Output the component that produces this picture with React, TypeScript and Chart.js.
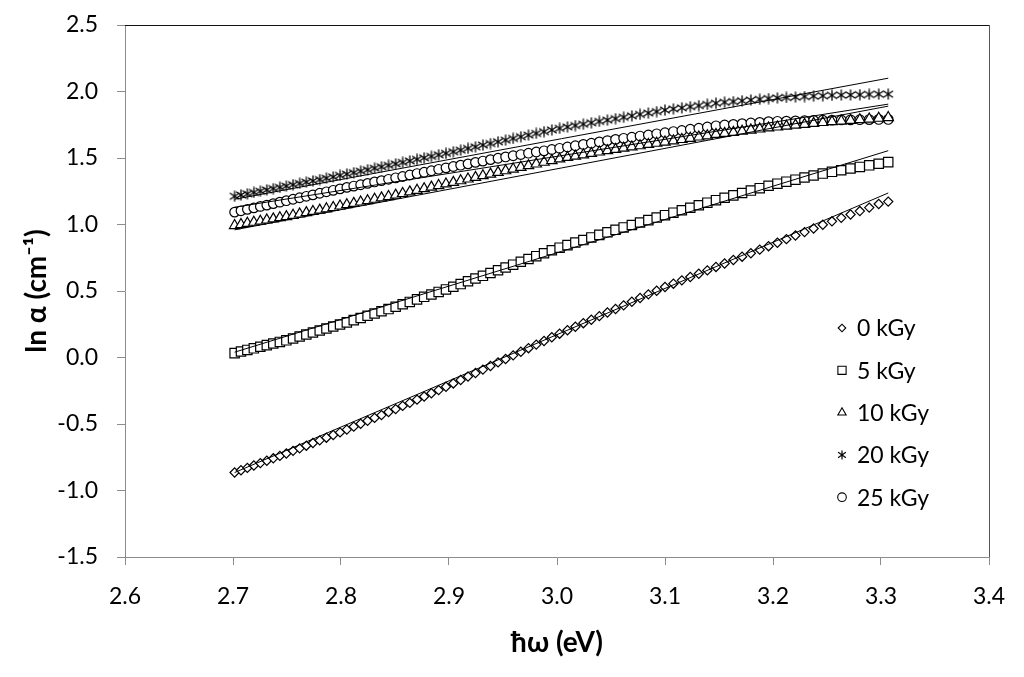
import { useEffect, useRef } from "react";
import { Chart, registerables } from "chart.js";
import { drawPoint } from "chart.js/helpers";

Chart.register(...registerables);

// photon energy (eV) of every measured point
const energies = [
  2.7015, 2.7074, 2.7133, 2.7193, 2.7253, 2.7313, 2.7373, 2.7434, 2.7494, 2.7556,
  2.7617, 2.7679, 2.774, 2.7803, 2.7865, 2.7928, 2.7991, 2.8054, 2.8118, 2.8182,
  2.8246, 2.8311, 2.8375, 2.844, 2.8506, 2.8571, 2.8637, 2.8704, 2.877, 2.8837,
  2.8904, 2.8972, 2.904, 2.9108, 2.9176, 2.9245, 2.9314, 2.9384, 2.9454, 2.9524,
  2.9594, 2.9665, 2.9736, 2.9808, 2.988, 2.9952, 3.0024, 3.0097, 3.017, 3.0244,
  3.0318, 3.0392, 3.0467, 3.0542, 3.0617, 3.0693, 3.0769, 3.0846, 3.0923, 3.1,
  3.1078, 3.1156, 3.1234, 3.1313, 3.1392, 3.1472, 3.1552, 3.1633, 3.1714, 3.1795,
  3.1877, 3.1959, 3.2041, 3.2124, 3.2208, 3.2292, 3.2376, 3.2461, 3.2546, 3.2632,
  3.2718, 3.2804, 3.2891, 3.2979, 3.3067,
];

const lnAlpha0kGy = [
  -0.865, -0.848, -0.83, -0.812, -0.794, -0.776, -0.758, -0.74, -0.722, -0.702,
  -0.683, -0.663, -0.643, -0.623, -0.603, -0.583, -0.563, -0.542, -0.52, -0.498,
  -0.476, -0.454, -0.433, -0.41, -0.388, -0.364, -0.341, -0.317, -0.293, -0.269,
  -0.245, -0.22, -0.195, -0.169, -0.143, -0.117, -0.091, -0.064, -0.037, -0.011,
  0.016, 0.043, 0.07, 0.097, 0.124, 0.152, 0.179, 0.205, 0.231, 0.258,
  0.284, 0.311, 0.338, 0.365, 0.392, 0.419, 0.447, 0.475, 0.502, 0.53,
  0.555, 0.58, 0.605, 0.63, 0.655, 0.681, 0.707, 0.733, 0.758, 0.784,
  0.811, 0.837, 0.863, 0.89, 0.917, 0.943, 0.97, 0.998, 1.024, 1.05,
  1.075, 1.101, 1.127, 1.154, 1.172,
];

const lnAlpha5kGy = [
  0.033, 0.045, 0.057, 0.069, 0.081, 0.093, 0.105, 0.117, 0.129, 0.143,
  0.158, 0.173, 0.188, 0.203, 0.218, 0.233, 0.248, 0.264, 0.281, 0.297,
  0.314, 0.331, 0.348, 0.364, 0.382, 0.4, 0.418, 0.437, 0.456, 0.474,
  0.493, 0.512, 0.532, 0.552, 0.573, 0.594, 0.614, 0.635, 0.656, 0.677,
  0.698, 0.72, 0.741, 0.762, 0.784, 0.806, 0.826, 0.845, 0.864, 0.883,
  0.903, 0.922, 0.941, 0.96, 0.978, 0.996, 1.015, 1.033, 1.052, 1.07,
  1.089, 1.107, 1.126, 1.145, 1.164, 1.183, 1.201, 1.219, 1.237, 1.255,
  1.273, 1.291, 1.307, 1.322, 1.337, 1.353, 1.368, 1.383, 1.396, 1.408,
  1.421, 1.433, 1.445, 1.457, 1.469,
];

const lnAlpha10kGy = [
  0.992, 1.0, 1.009, 1.017, 1.025, 1.034, 1.042, 1.051, 1.059, 1.069,
  1.079, 1.089, 1.098, 1.108, 1.118, 1.128, 1.139, 1.149, 1.159, 1.169,
  1.179, 1.19, 1.2, 1.21, 1.221, 1.233, 1.245, 1.257, 1.269, 1.281,
  1.293, 1.305, 1.317, 1.329, 1.342, 1.354, 1.367, 1.379, 1.392, 1.404,
  1.417, 1.43, 1.442, 1.455, 1.468, 1.481, 1.493, 1.504, 1.514, 1.524,
  1.535, 1.545, 1.555, 1.565, 1.574, 1.583, 1.592, 1.602, 1.611, 1.62,
  1.629, 1.639, 1.648, 1.658, 1.667, 1.677, 1.685, 1.693, 1.701, 1.71,
  1.718, 1.726, 1.733, 1.74, 1.747, 1.753, 1.76, 1.767, 1.773, 1.778,
  1.783, 1.788, 1.793, 1.799, 1.804,
];

const lnAlpha20kGy = [
  1.212, 1.222, 1.231, 1.241, 1.25, 1.26, 1.27, 1.279, 1.289, 1.299,
  1.309, 1.319, 1.328, 1.338, 1.348, 1.358, 1.369, 1.379, 1.39, 1.401,
  1.412, 1.423, 1.434, 1.445, 1.456, 1.467, 1.478, 1.49, 1.501, 1.512,
  1.524, 1.535, 1.547, 1.559, 1.572, 1.584, 1.597, 1.609, 1.622, 1.634,
  1.647, 1.66, 1.672, 1.685, 1.698, 1.711, 1.723, 1.734, 1.744, 1.754,
  1.765, 1.775, 1.785, 1.796, 1.806, 1.817, 1.828, 1.838, 1.849, 1.86,
  1.869, 1.877, 1.886, 1.894, 1.903, 1.912, 1.919, 1.924, 1.93, 1.936,
  1.941, 1.947, 1.952, 1.955, 1.958, 1.962, 1.965, 1.968, 1.971, 1.973,
  1.974, 1.976, 1.978, 1.98, 1.98,
];

const lnAlpha25kGy = [
  1.093, 1.103, 1.114, 1.125, 1.136, 1.146, 1.157, 1.168, 1.179, 1.19,
  1.201, 1.212, 1.223, 1.235, 1.246, 1.257, 1.268, 1.279, 1.289, 1.299,
  1.309, 1.32, 1.33, 1.34, 1.351, 1.361, 1.372, 1.383, 1.393, 1.404,
  1.415, 1.426, 1.436, 1.446, 1.456, 1.467, 1.477, 1.488, 1.498, 1.508,
  1.517, 1.526, 1.536, 1.545, 1.554, 1.564, 1.573, 1.583, 1.592, 1.602,
  1.611, 1.621, 1.631, 1.64, 1.648, 1.656, 1.665, 1.673, 1.682, 1.69,
  1.699, 1.707, 1.716, 1.724, 1.733, 1.742, 1.748, 1.753, 1.758, 1.763,
  1.768, 1.773, 1.776, 1.777, 1.779, 1.781, 1.783, 1.784, 1.785, 1.786,
  1.787, 1.788, 1.789, 1.79, 1.79,
];

const doseLabels = ["0 kGy", "5 kGy", "10 kGy", "20 kGy", "25 kGy"];

// linear fits: value at first and last energy, one per dose
const fitEnergies = [2.7015, 3.3067];
const fitStart = [-0.865, 0.04, 0.96, 1.19, 1.13];
const fitEnd = [1.237, 1.555, 1.89, 2.1, 1.905];

const xTicks = [2.6, 2.7, 2.8, 2.9, 3.0, 3.1, 3.2, 3.3, 3.4];
const yTicks = [-1.5, -1.0, -0.5, 0.0, 0.5, 1.0, 1.5, 2.0, 2.5];

const FONT = "Lato";

function asterisk(size: number, lw: number) {
  const c = document.createElement("canvas");
  c.width = size;
  c.height = size;
  const g = c.getContext("2d")!;
  const m = size / 2;
  const r = size / 2 - 0.5;
  g.strokeStyle = "#000";
  g.lineWidth = lw;
  g.beginPath();
  g.moveTo(m - r * 0.87, m - r * 0.6);
  g.lineTo(m + r * 0.87, m + r * 0.6);
  g.moveTo(m + r * 0.87, m - r * 0.6);
  g.lineTo(m - r * 0.87, m + r * 0.6);
  g.moveTo(m, m - r);
  g.lineTo(m, m + r);
  g.stroke();
  return c;
}

const App = () => {
  const canvasRef = useRef<HTMLCanvasElement | null>(null);

  useEffect(() => {
    document.body.style.margin = "0";
    if (!canvasRef.current) return;

    const series = [lnAlpha0kGy, lnAlpha5kGy, lnAlpha10kGy, lnAlpha20kGy, lnAlpha25kGy];
    const styles: any[] = ["rectRot", "rect", "triangle", asterisk(12, 1.3), "circle"];
    const radii = [4.6, 6.6, 6.0, 6, 4.8];
    const legendStyles: any[] = ["rectRot", "rect", "triangle", asterisk(10, 1.2), "circle"];
    const legendRadii = [3.8, 5.8, 4.8, 5, 4.3];

    const fits = fitStart.map((y0, k) => ({
      type: "line" as const,
      label: "fit " + doseLabels[k],
      data: [
        { x: fitEnergies[0], y: y0 },
        { x: fitEnergies[1], y: fitEnd[k] },
      ],
      borderColor: "#000",
      borderWidth: 1,
      pointRadius: 0,
      showLine: true,
      fill: false,
    }));

    const marks = series.map((vals, k) => ({
      type: "scatter" as const,
      label: doseLabels[k],
      data: energies.map((x, i) => ({ x, y: vals[i] })),
      pointStyle: styles[k],
      pointRadius: radii[k],
      pointBackgroundColor: "#fff",
      pointBorderColor: "#000",
      pointBorderWidth: 1.2,
      showLine: false,
    }));

    const framePlugin = {
      id: "frame",
      afterDatasetsDraw(chart: any) {
        const { ctx, chartArea } = chart;
        const { left, top, right, bottom } = chartArea;
        ctx.save();
        ctx.lineWidth = 1;
        ctx.strokeStyle = "#111";
        ctx.beginPath();
        ctx.moveTo(left, Math.round(top) + 0.5);
        ctx.lineTo(right, Math.round(top) + 0.5);
        ctx.stroke();
        ctx.strokeStyle = "#555";
        ctx.beginPath();
        ctx.moveTo(Math.round(right) + 0.5, top);
        ctx.lineTo(Math.round(right) + 0.5, bottom);
        ctx.stroke();
        ctx.restore();
      },
    };

    const legendPlugin = {
      id: "doseLegend",
      afterDraw(chart: any) {
        const { ctx } = chart;
        ctx.save();
        ctx.font = `23px ${FONT}`;
        ctx.textBaseline = "middle";
        doseLabels.forEach((label, k) => {
          const y = 328 + k * 42.3;
          ctx.fillStyle = "#fff";
          ctx.strokeStyle = "#000";
          ctx.lineWidth = 1.1;
          drawPoint(ctx, { pointStyle: legendStyles[k], radius: legendRadii[k], rotation: 0, borderWidth: 1.1 }, 842, y);
          ctx.fillStyle = "#000";
          ctx.fillText(label, 857, y + 1);
        });
        ctx.restore();
      },
    };

    const chart = new Chart(canvasRef.current, {
      type: "scatter",
      data: { datasets: [...fits, ...marks] as any },
      options: {
        animation: false,
        responsive: false,
        layout: { padding: { left: 0, top: 25, right: 35, bottom: 0 } },
        plugins: {
          legend: { display: false },
          tooltip: { enabled: false },
        },
        scales: {
          x: {
            type: "linear",
            min: 2.6,
            max: 3.4,
            afterFit: (s: any) => {
              s.height = 120;
            },
            afterBuildTicks: (s: any) => {
              s.ticks = xTicks.map((v) => ({ value: v }));
            },
            ticks: {
              font: { family: FONT, size: 23 },
              color: "#000",
              padding: 18,
              callback: (v: any) => Number(v).toFixed(1),
            },
            grid: { drawOnChartArea: false, tickLength: 8, color: "#8c8c8c" },
            border: { color: "#8c8c8c" },
            title: {
              display: true,
              text: "ħω (eV)",
              font: { family: FONT, size: 28, weight: "bold" },
              color: "#000",
              padding: { top: 0, bottom: 17 },
            },
          },
          y: {
            type: "linear",
            min: -1.5,
            max: 2.5,
            afterFit: (s: any) => {
              s.width = 125;
              s.paddingTop = 0;
              s.paddingBottom = 0;
            },
            afterBuildTicks: (s: any) => {
              s.ticks = yTicks.map((v) => ({ value: v }));
            },
            ticks: {
              font: { family: FONT, size: 23 },
              color: "#000",
              padding: 19,
              callback: (v: any) => Number(v).toFixed(1),
            },
            grid: { drawOnChartArea: false, tickLength: 8, color: "#8c8c8c" },
            border: { color: "#8c8c8c" },
            title: {
              display: true,
              text: "ln α (cm⁻¹)",
              font: { family: FONT, size: 28, weight: "bold" },
              color: "#000",
              padding: { top: 20, bottom: 0 },
            },
          },
        },
      },
      plugins: [framePlugin, legendPlugin],
    });

    return () => {
      chart.destroy();
    };
  }, []);

  return (
    <div style={{ width: 1024, height: 677 }}>
      <canvas ref={canvasRef} width={1024} height={677} />
    </div>
  );
};

export default App;
